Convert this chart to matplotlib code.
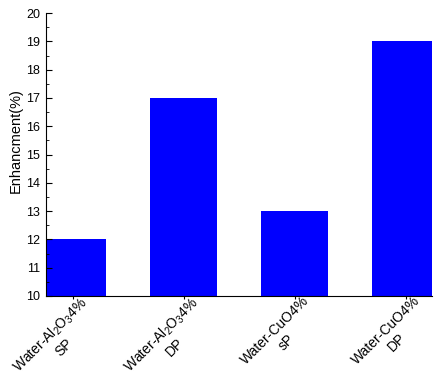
import matplotlib
matplotlib.use('Agg')
import matplotlib.pyplot as plt
import matplotlib.transforms as mtransforms
from matplotlib.ticker import MultipleLocator

plt.rcParams['font.family'] = ['Liberation Sans', 'DejaVu Sans']
plt.rcParams['mathtext.fontset'] = 'custom'
plt.rcParams['mathtext.rm'] = 'Liberation Sans'
plt.rcParams['mathtext.it'] = 'Liberation Sans'

# data
labels = ['Water-Al$_2$O$_3$4%\nSP', 'Water-Al$_2$O$_3$4%\nDP',
          'Water-CuO4%\nsP', 'Water-CuO4%\nDP']
values = [12, 17, 13, 19]

fig = plt.figure(figsize=(4.4, 3.75), dpi=100)
ax = fig.add_axes([0.1045, 0.2107, 0.8775, 0.7543])

x = range(len(values))
ax.bar(x, values, width=0.6, color='#0000ff', linewidth=0)

ax.set_xlim(-0.239, 3.239)
ax.set_ylim(10, 20)
ax.yaxis.set_major_locator(MultipleLocator(1))
ax.yaxis.set_minor_locator(MultipleLocator(0.5))
ax.spines['top'].set_visible(False)
ax.spines['right'].set_visible(False)
ax.tick_params(axis='y', which='major', direction='in', length=4, pad=4, labelsize=9)
ax.tick_params(axis='y', which='minor', direction='in', length=2.5)
ax.tick_params(axis='x', direction='out', length=2, pad=0, labelsize=10)

ax.set_xticks(list(x))
ax.set_xticklabels(labels, rotation=45, ha='right', va='top', rotation_mode='anchor',
                   multialignment='center', linespacing=1.2)
# nudge labels so their upper end sits right of the tick, like the original
shift = mtransforms.ScaledTranslation(0.07, 0.05, fig.dpi_scale_trans)
for lab in ax.get_xticklabels():
    lab.set_transform(lab.get_transform() + shift)

ax.set_ylabel('Enhancment(%)', fontsize=10.5)
ax.yaxis.set_label_coords(-0.06, 0.548)

fig.savefig('out.png', dpi=100)
